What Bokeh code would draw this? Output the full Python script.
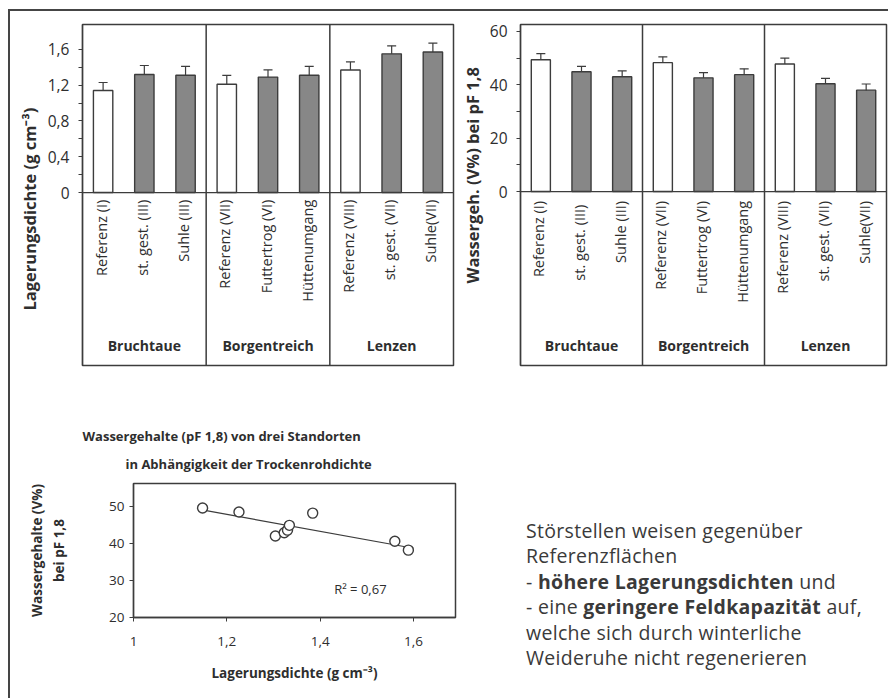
import numpy as np
from bokeh.plotting import figure
from bokeh.layouts import row, column
from bokeh.models import (ColumnDataSource, FactorRange, Range1d, Span, Whisker, TeeHead,
                          FixedTicker, CustomJSTickFormatter, Title, Label, Div)
from bokeh.core.properties import value
from bokeh.embed import file_html
from bokeh.resources import INLINE

FONT = "Open Sans"
INK = "#2e2e2e"
LINE = "#3c3c3c"
GREY = "#878787"

# ---- data -------------------------------------------------------------
groups = ["Bruchtaue", "Borgentreich", "Lenzen"]

density_sites = ["Referenz (I)", "st. gest. (III)", "Suhle (III)",
                 "Referenz (VII)", "Futtertrog (VI)", "Hüttenumgang",
                 "Referenz (VIII)", "st. gest. (VII)", "Suhle(VII)"]
water_sites = ["Referenz (I)", "st. gest.  (III)", "Suhle (III)",
               "Referenz (VII)", "Futtertrog (VI)", "Hüttenumgang",
               "Referenz (VIII)", "st. gest. (VII)", "Suhle(VII)"]
site_type = ["Referenz", "Störstelle", "Störstelle",
             "Referenz", "Störstelle", "Störstelle",
             "Referenz", "Störstelle", "Störstelle"]

density = [1.14, 1.32, 1.31, 1.21, 1.29, 1.31, 1.37, 1.55, 1.57]
density_err = [0.09, 0.10, 0.10, 0.10, 0.08, 0.10, 0.09, 0.09, 0.10]

water = [49.4, 44.9, 43.0, 48.3, 42.6, 43.8, 47.8, 40.4, 38.0]
water_err = [2.3, 2.0, 2.2, 2.2, 2.0, 2.2, 2.2, 2.0, 2.3]

scatter_density = [1.148, 1.226, 1.304, 1.323, 1.330, 1.334, 1.384, 1.560, 1.589]
scatter_water = [49.6, 48.5, 42.0, 42.9, 43.6, 44.9, 48.2, 40.6, 38.2]
fit_density = [1.15, 1.60]
fit_water = [49.0, 38.7]
r_squared = "0,67"

density_ticks = [0, 0.4, 0.8, 1.2, 1.6]
water_ticks = [0, 20, 40, 60]
scatter_x_ticks = [1.0, 1.2, 1.4, 1.6]
scatter_y_ticks = [20, 30, 40, 50]

note_lines = [
    "Störstellen weisen gegenüber",
    "Referenzflächen",
    "- <b>höhere Lagerungsdichten</b> und",
    "- eine <b>geringere Feldkapazität</b> auf,",
    "welche sich durch winterliche",
    "Weideruhe nicht regenerieren",
]

# ---- helpers ----------------------------------------------------------
comma = CustomJSTickFormatter(code="""
    const r = Math.round(tick * 1000) / 1000;
    const s = Number.isInteger(r) ? String(r) : r.toFixed(1);
    return s.replace('.', ',');
""")


def style_axis(ax, size="15.5px"):
    ax.axis_line_color = LINE
    ax.axis_line_width = 1.3
    ax.major_tick_line_color = LINE
    ax.minor_tick_line_color = LINE
    ax.major_tick_out = 4
    ax.major_tick_in = 0
    ax.minor_tick_out = 4
    ax.minor_tick_in = 0
    ax.major_label_text_font = FONT
    ax.major_label_text_font_size = size
    ax.major_label_text_color = INK
    ax.axis_label_text_font = FONT
    ax.axis_label_text_color = INK
    ax.axis_label_text_font_style = "bold"
    ax.formatter = comma


def side_title(text, offset, standoff):
    # vertical axis title, placed from the bottom of the frame upwards
    return Title(text=text, align="left", offset=offset, standoff=standoff,
                 text_font=FONT, text_font_size="16.5px", text_font_style="bold",
                 text_color=INK)


def bar_panel(sites, vals, errs, yr, ticks, minor, label_y, group_y,
              width, height, borders, label_standoff):
    left, right, top, bottom = borders
    p = figure(x_range=FactorRange(factors=sites, range_padding=0),
               y_range=Range1d(*yr), width=width, height=height,
               output_backend="svg", toolbar_location=None,
               min_border_left=left, min_border_right=right,
               min_border_top=top, min_border_bottom=bottom)
    p.xaxis.visible = False
    p.grid.visible = False
    p.outline_line_color = LINE
    p.outline_line_width = 1.5
    p.background_fill_color = "white"
    p.border_fill_color = "white"

    colors = ["white" if t == "Referenz" else GREY for t in site_type]
    src = ColumnDataSource(dict(
        x=sites, top=vals, color=colors,
        upper=[v + e for v, e in zip(vals, errs)],
        lower=[v - e for v, e in zip(vals, errs)],
    ))
    p.vbar(x="x", top="top", bottom=0, width=0.47, source=src,
           fill_color="color", line_color=LINE, line_width=1.4)
    p.add_layout(Whisker(source=src, base="x", upper="upper", lower="lower",
                         line_color=LINE, line_width=1.2,
                         upper_head=TeeHead(size=9, line_color=LINE, line_width=1.2),
                         lower_head=TeeHead(size=9, line_color=LINE, line_width=1.2)))

    p.add_layout(Span(location=0, dimension="width", line_color=LINE, line_width=1.3))
    for loc in (3, 6):
        p.add_layout(Span(location=loc, dimension="height", line_color=LINE, line_width=1.5))

    p.text(x=sites, y=[label_y] * len(sites), text=sites, angle=np.pi / 2,
           text_align="right", text_baseline="middle", x_offset=-2,
           text_font=value(FONT), text_font_size="14.5px", text_color=INK)
    p.text(x=[sites[1], sites[4], sites[7]], y=[group_y] * 3, text=groups,
           text_align="center", text_baseline="middle",
           text_font=value(FONT), text_font_size="14px",
           text_font_style="bold", text_color=INK)

    ax = p.yaxis[0]
    style_axis(ax)
    ax.ticker = FixedTicker(ticks=ticks, minor_ticks=minor)
    ax.major_label_standoff = label_standoff
    return p


# ---- top row: bulk density and water content bars -----------------------
p1 = bar_panel(density_sites, density, density_err, (-1.933, 1.878),
               density_ticks, [0.2, 0.6, 1.0, 1.4],
               -0.08, -1.71, 445, 361, (72, 2, 11, 7), 9)
p1.add_layout(side_title("Lagerungsdichte (g cm⁻³)", 55, 8), "left")

p2 = bar_panel(water_sites, water, water_err, (-65.2, 62.6),
               water_ticks, [10, 30, 50],
               -3.5, -57.7, 433, 361, (63, 2, 13, 7), 9)
p2.add_layout(side_title("Wassergeh. (V%) bei pF 1,8", 82, 6), "left")

# ---- bottom left: water content vs bulk density -------------------------
p3 = figure(x_range=Range1d(1.0, 1.69), y_range=Range1d(20, 56.2),
            width=460, height=324, output_backend="svg", toolbar_location=None,
            min_border_left=123, min_border_right=15,
            min_border_top=111, min_border_bottom=79)
p3.grid.visible = False
p3.outline_line_color = LINE
p3.outline_line_width = 1.5

p3.line(fit_density, fit_water, line_color=LINE, line_width=1.2)
p3.scatter(scatter_density, scatter_water, marker="circle", size=10,
           fill_color="white", line_color=LINE, line_width=1.4)
p3.add_layout(Label(x=1.43, y=27.8, text=f"R² = {r_squared}",
                    text_font=FONT, text_font_size="13px", text_color=INK,
                    text_baseline="middle"))

for ax, ticks in ((p3.xaxis[0], scatter_x_ticks), (p3.yaxis[0], scatter_y_ticks)):
    style_axis(ax, "13.5px")
    ax.ticker = FixedTicker(ticks=ticks)
    ax.minor_tick_out = 0
    ax.axis_label_text_font_size = "13.5px"
p3.xaxis.major_label_standoff = 15
p3.xaxis.axis_label = "Lagerungsdichte (g cm⁻³)"
p3.xaxis.axis_label_standoff = 15
p3.yaxis.axis_label = "Wassergehalte (V%)\nbei pF 1,8"
p3.yaxis.axis_label_standoff = 38

p3.add_layout(Title(text="in Abhängigkeit der Trockenrohdichte", align="left",
                    offset=-8, text_font=FONT, text_font_size="13px",
                    text_font_style="bold", text_color=INK, standoff=22), "above")
p3.add_layout(Title(text="Wassergehalte (pF 1,8) von drei Standorten", align="left",
                    offset=-51, text_font=FONT, text_font_size="13px",
                    text_font_style="bold", text_color=INK, standoff=-6), "above")

# ---- bottom right: summary note -----------------------------------------
note = Div(text="<br>".join(note_lines), width=418, height=324,
           styles={"font-family": "'Open Sans', sans-serif", "font-size": "19.5px",
                   "letter-spacing": "0.3px",
                   "line-height": "25.4px", "color": "#3a3a3a",
                   "padding-top": "141px", "padding-left": "51px",
                   "box-sizing": "border-box"})

root = column(row(p1, p2), row(p3, note),
              margin=(9, 0, 0, 8),
              styles={"border-top": "2px solid #454545",
                      "border-left": "2px solid #454545"})

open("out.html", "w").write(file_html(root, INLINE))
